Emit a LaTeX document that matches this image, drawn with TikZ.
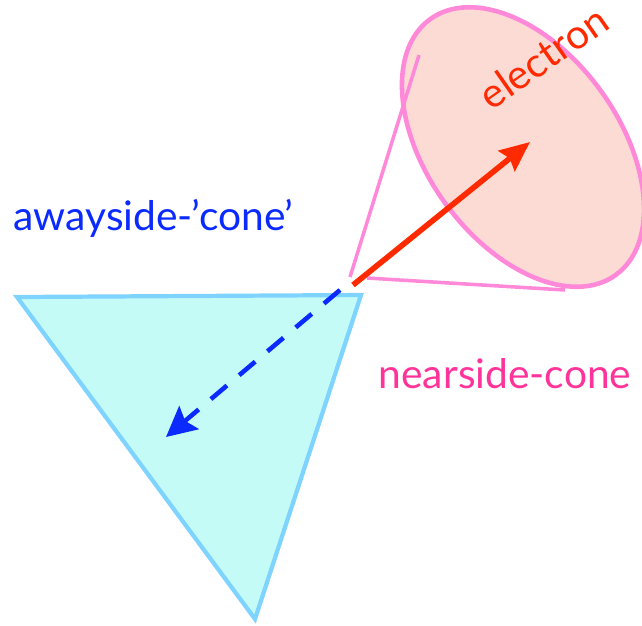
\documentclass[tikz,border=0pt]{standalone}
\usepackage{fontspec}
\setmainfont{Lato}
\usepackage{xcolor}
\usetikzlibrary{arrows.meta}
\definecolor{awaycol}{HTML}{0A2AFF}
\definecolor{nearcol}{HTML}{FF3399}
\definecolor{elcol}{HTML}{FF2A00}
\definecolor{conepink}{HTML}{FF88D8}
\definecolor{discfill}{HTML}{FDDBD5}
\definecolor{trifill}{HTML}{C4FBF7}
\definecolor{triline}{HTML}{7FD3FF}
\tikzset{label text/.style={font=\fontsize{11.6}{14}\selectfont,inner sep=0pt}}
\begin{document}
\begin{tikzpicture}[>={Stealth[length=3mm,width=2.6mm,inset=0.4mm]}]
\useasboundingbox (0,0) rectangle (6.42,6.25);
% awayside triangle
\draw[line width=1.2pt,triline,fill=trifill,line join=miter]
(0.17,3.28)--(3.61,3.30)--(2.55,0.06)--cycle;
% nearside cone and electron disc
\draw[line width=1.3pt,conepink,fill=discfill]
(5.23,4.78) ellipse[x radius=1.58,y radius=0.96,rotate=-54];
\coordinate (v1) at (3.50,3.48);
\coordinate (v2) at (3.67,3.47);
\coordinate (r1) at (4.19,5.70);
\coordinate (r2) at (5.65,3.35);
\draw[line width=1pt,conepink](v1)--(r1) (v2)--(r2);
% jets
\coordinate (o) at (3.53,3.40);
\coordinate (e) at (5.30,4.83);
\coordinate (o2) at (3.40,3.35);
\coordinate (a) at (1.66,1.88);
\draw[->,line width=1.6pt,elcol](o)--(e);
\draw[->,line width=1.3pt,awaycol,dash pattern=on 2.1mm off 1.6mm,
>={Stealth[length=3mm,width=3mm,inset=0.5mm]}](o2)--(a);
% labels
\node[label text,awaycol,anchor=base west] (away) at (0.13,3.95) {awayside-’cone’};
\node[label text,nearcol,anchor=base west] (near) at (3.78,2.37) {nearside-cone};
\node[label text,elcol,rotate=35] (elec) at (5.43,5.68) {electron};
\end{tikzpicture}
\end{document}
